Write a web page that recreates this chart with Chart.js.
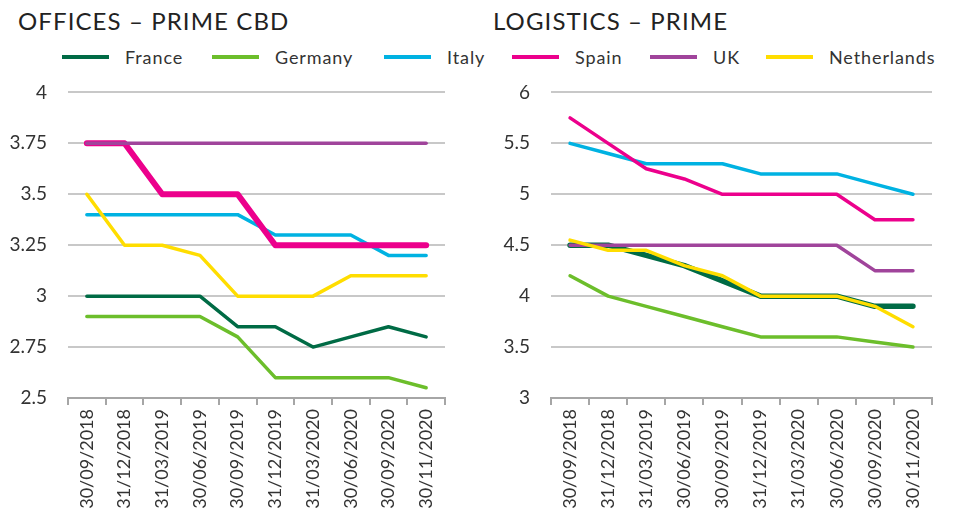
<!DOCTYPE html>
<html><head><meta charset="utf-8">
<script src="https://cdn.jsdelivr.net/npm/chart.js@4/dist/chart.umd.min.js"></script>
<style>
html,body{margin:0;padding:0;background:#fff;width:955px;height:528px;overflow:hidden;font-family:Lato,"Open Sans",sans-serif;}
.title{position:absolute;top:6px;font-size:24px;color:#222;letter-spacing:1.1px;font-weight:400;white-space:nowrap;}
.leg{position:absolute;top:45px;height:24px;font-size:18px;color:#333;white-space:nowrap;line-height:24px;letter-spacing:0.9px;}
.leg i{position:absolute;top:10px;left:0;width:47px;height:4px;}
.leg span{position:absolute;left:63px;top:0;}
canvas{position:absolute;}
</style></head><body>
<div class="title" style="left:18px">OFFICES – PRIME CBD</div>
<div class="title" style="left:493px">LOGISTICS – PRIME</div>
<div id="legend"></div>
<canvas id="c1" width="470" height="468" style="left:0;top:60px;width:470px;height:468px"></canvas>
<canvas id="c2" width="475" height="468" style="left:480px;top:60px;width:475px;height:468px"></canvas>
<script>
const categories = ["30/09/2018","31/12/2018","31/03/2019","30/06/2019","30/09/2019","31/12/2019","31/03/2020","30/06/2020","30/09/2020","30/11/2020"];
const seriesNames = ["France","Germany","Italy","Spain","UK","Netherlands"];
const seriesColors = ["#006B45","#6CBE2B","#00B2E2","#EC008C","#A0449B","#FFDD00"];

// Offices – prime CBD yields (%)
const officesFrance      = [3.0, 3.0, 3.0, 3.0, 2.85, 2.85, 2.75, 2.8, 2.85, 2.8];
const officesGermany     = [2.9, 2.9, 2.9, 2.9, 2.8, 2.6, 2.6, 2.6, 2.6, 2.55];
const officesItaly       = [3.4, 3.4, 3.4, 3.4, 3.4, 3.3, 3.3, 3.3, 3.2, 3.2];
const officesSpain       = [3.75, 3.75, 3.5, 3.5, 3.5, 3.25, 3.25, 3.25, 3.25, 3.25];
const officesUK          = [3.75, 3.75, 3.75, 3.75, 3.75, 3.75, 3.75, 3.75, 3.75, 3.75];
const officesNetherlands = [3.5, 3.25, 3.25, 3.2, 3.0, 3.0, 3.0, 3.1, 3.1, 3.1];

// Logistics – prime yields (%)
const logFrance      = [4.5, 4.5, 4.4, 4.3, 4.15, 4.0, 4.0, 4.0, 3.9, 3.9];
const logGermany     = [4.2, 4.0, 3.9, 3.8, 3.7, 3.6, 3.6, 3.6, 3.55, 3.5];
const logItaly       = [5.5, 5.4, 5.3, 5.3, 5.3, 5.2, 5.2, 5.2, 5.1, 5.0];
const logSpain       = [5.75, 5.5, 5.25, 5.15, 5.0, 5.0, 5.0, 5.0, 4.75, 4.75];
const logUK          = [4.5, 4.5, 4.5, 4.5, 4.5, 4.5, 4.5, 4.5, 4.25, 4.25];
const logNetherlands = [4.55, 4.45, 4.45, 4.3, 4.2, 4.0, 4.0, 4.0, 3.9, 3.7];

const officesTicks = [2.5, 2.75, 3, 3.25, 3.5, 3.75, 4];
const logTicks = [3, 3.5, 4, 4.5, 5, 5.5, 6];

// legend (shared)
const legendX = [62, 212, 384, 512, 650, 766];
const lg = document.getElementById('legend');
seriesNames.forEach((n, i) => {
  const d = document.createElement('div');
  d.className = 'leg';
  d.style.left = legendX[i] + 'px';
  d.innerHTML = '<i style="background:' + seriesColors[i] + '"></i><span>' + n + '</span>';
  lg.appendChild(d);
});

const FONT = "Lato, 'Open Sans', sans-serif";

function makeChart(id, seriesData, widths, ticks, yAxisW, rightPad) {
  const datasets = seriesData.map((d, i) => ({
    label: seriesNames[i],
    data: d,
    borderColor: seriesColors[i],
    backgroundColor: seriesColors[i],
    borderWidth: widths[i],
    pointRadius: 0,
    tension: 0,
    fill: false,
    borderJoinStyle: 'round',
    borderCapStyle: 'round',
    order: seriesData.length - i
  }));
  return new Chart(document.getElementById(id), {
    type: 'line',
    data: { labels: categories, datasets },
    options: {
      responsive: false,
      animation: false,
      devicePixelRatio: 1,
      layout: { padding: { top: 12, right: rightPad, left: 0, bottom: 0 } },
      plugins: { legend: { display: false }, tooltip: { enabled: false } },
      scales: {
        x: {
          offset: true,
          grid: { display: true, drawOnChartArea: false, drawTicks: true, tickLength: 7, color: '#A6A6A6', lineWidth: 2, offset: true },
          border: { display: true, color: '#A6A6A6', width: 2 },
          ticks: { minRotation: 90, maxRotation: 90, autoSkip: false, color: '#333', padding: 4, font: { family: FONT, size: 18 } },
          afterFit: s => { s.height = 130; }
        },
        y: {
          min: ticks[0],
          max: ticks[ticks.length - 1],
          afterBuildTicks: s => { s.ticks = ticks.map(v => ({ value: v })); },
          grid: { color: '#C8C8C8', lineWidth: 2, drawTicks: false },
          border: { display: false },
          ticks: { color: '#333', padding: 21, font: { family: FONT, size: 19 }, callback: v => String(+(+v).toFixed(2)) },
          afterFit: s => { s.width = yAxisW; }
        }
      }
    }
  });
}

makeChart('c1',
  [officesFrance, officesGermany, officesItaly, officesSpain, officesUK, officesNetherlands],
  [3.5, 3.5, 3.5, 6, 3.5, 3.5], officesTicks, 68, 25);
makeChart('c2',
  [logFrance, logGermany, logItaly, logSpain, logUK, logNetherlands],
  [5.5, 3.5, 3.5, 3.5, 3.5, 3.5], logTicks, 71, 23);
</script>
</body></html>
